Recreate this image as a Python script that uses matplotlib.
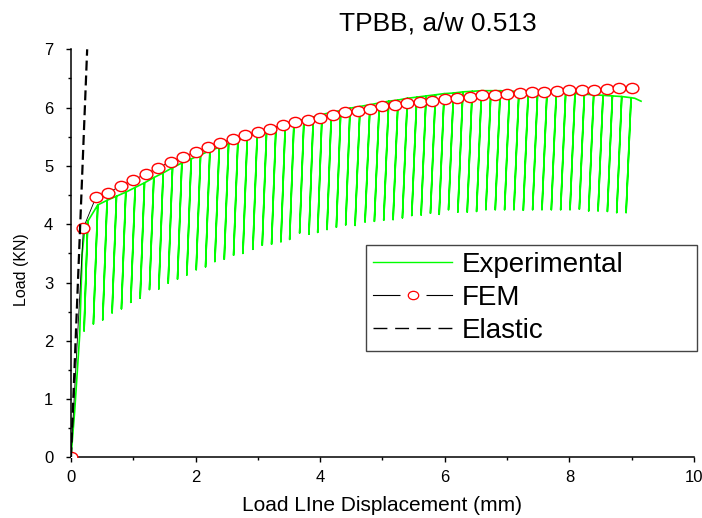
import matplotlib
matplotlib.use("Agg")
import matplotlib.pyplot as plt
from matplotlib.lines import Line2D
from matplotlib.path import Path
from matplotlib.transforms import Affine2D
from matplotlib.ticker import MultipleLocator
from matplotlib.legend_handler import HandlerTuple

plt.rcParams["font.family"] = ["Liberation Sans", "DejaVu Sans"]

# FEM prediction (one point every 0.2 mm)
fem_disp = [0.0, 0.2, 0.4, 0.6, 0.8, 1.0, 1.2, 1.4, 1.6, 1.8, 2.0, 2.2, 2.4,
            2.6, 2.8, 3.0, 3.2, 3.4, 3.6, 3.8, 4.0, 4.2, 4.4, 4.6, 4.8, 5.0,
            5.2, 5.4, 5.6, 5.8, 6.0, 6.2, 6.4, 6.6, 6.8, 7.0, 7.2, 7.4, 7.6,
            7.8, 8.0, 8.2, 8.4, 8.6, 8.8, 9.0]
fem_load = [0.0, 3.94, 4.46, 4.54, 4.66, 4.76, 4.86, 4.97, 5.07, 5.16, 5.24,
            5.32, 5.39, 5.47, 5.53, 5.59, 5.64, 5.70, 5.75, 5.79, 5.83, 5.88,
            5.92, 5.95, 5.98, 6.03, 6.05, 6.08, 6.10, 6.12, 6.14, 6.17, 6.19,
            6.21, 6.22, 6.23, 6.25, 6.26, 6.27, 6.28, 6.30, 6.31, 6.31, 6.32,
            6.33, 6.34]

# elastic line
elastic_disp = [0.0, 0.26]
elastic_load = [0.0, 7.0]

# experimental: initial loading, unload/reload cycles, final tail
initial_disp = [0.0, 0.06, 0.14, 0.18, 0.22]
initial_load = [0.0, 0.80, 2.10, 3.50, 3.90]

peak_disp = [0.27, 0.43, 0.58, 0.73, 0.88, 1.03, 1.18, 1.33, 1.48, 1.63,
             1.78, 1.93, 2.08, 2.23, 2.38, 2.53, 2.68, 2.83, 2.99, 3.14,
             3.29, 3.44, 3.58, 3.74, 3.89, 4.03, 4.18, 4.33, 4.48, 4.64,
             4.80, 4.95, 5.10, 5.25, 5.40, 5.55, 5.70, 5.85, 5.99, 6.14,
             6.29, 6.44, 6.59, 6.74, 6.89, 7.04, 7.19, 7.34, 7.49, 7.64,
             7.79, 7.94, 8.09, 8.24, 8.39, 8.54, 8.69, 8.84, 8.99]
peak_load = [4.05, 4.33, 4.41, 4.48, 4.55, 4.63, 4.71, 4.80, 4.88, 4.97,
             5.05, 5.12, 5.19, 5.26, 5.32, 5.38, 5.44, 5.50, 5.56, 5.61,
             5.66, 5.71, 5.76, 5.80, 5.84, 5.88, 5.92, 5.95, 5.99, 6.02,
             6.05, 6.08, 6.11, 6.13, 6.16, 6.18, 6.20, 6.22, 6.24, 6.25,
             6.27, 6.28, 6.29, 6.29, 6.29, 6.28, 6.28, 6.27, 6.27, 6.26,
             6.26, 6.25, 6.24, 6.23, 6.22, 6.21, 6.20, 6.19, 6.17]
valley_disp = [0.21, 0.36, 0.51, 0.66, 0.81, 0.96, 1.11, 1.26, 1.41, 1.56,
               1.71, 1.86, 2.01, 2.16, 2.31, 2.46, 2.61, 2.76, 2.92, 3.07,
               3.22, 3.37, 3.51, 3.67, 3.82, 3.96, 4.11, 4.26, 4.41, 4.56,
               4.72, 4.87, 5.02, 5.17, 5.32, 5.47, 5.62, 5.77, 5.91, 6.06,
               6.21, 6.36, 6.51, 6.66, 6.81, 6.96, 7.11, 7.26, 7.41, 7.56,
               7.71, 7.86, 8.01, 8.16, 8.31, 8.46, 8.61, 8.76, 8.91]
valley_load = [2.17, 2.29, 2.36, 2.48, 2.55, 2.66, 2.73, 2.88, 2.89, 2.99,
               3.06, 3.13, 3.22, 3.27, 3.36, 3.40, 3.47, 3.50, 3.57, 3.64,
               3.66, 3.70, 3.74, 3.85, 3.83, 3.86, 3.91, 3.95, 3.99, 3.98,
               4.04, 4.05, 4.07, 4.08, 4.11, 4.15, 4.16, 4.19, 4.17, 4.25,
               4.21, 4.21, 4.22, 4.25, 4.25, 4.25, 4.25, 4.24, 4.25, 4.25,
               4.25, 4.25, 4.25, 4.26, 4.23, 4.23, 4.22, 4.20, 4.20]

tail_disp = [9.05, 9.15]
tail_load = [6.16, 6.11]

exp_x = list(initial_disp)
exp_y = list(initial_load)
for px, pl, vx, vl in zip(peak_disp, peak_load, valley_disp, valley_load):
    exp_x += [px, vx, px]
    exp_y += [pl, vl, pl]
exp_x += tail_disp
exp_y += tail_load

GREEN = "#00ff00"
RED = "#ff0000"

# Origin-style slightly flattened circle marker
ellipse = Affine2D().scale(1.0, 0.8).transform_path(Path.unit_circle())

fig = plt.figure(figsize=(7.02, 5.18), dpi=100)
ax = fig.add_axes([0.1011, 0.1170, 0.8875, 0.7878])

ax.plot(exp_x, exp_y, color=GREEN, linewidth=1.2, zorder=2)
ax.plot(fem_disp, fem_load, color="black", linewidth=0.6,
        marker=ellipse, markersize=9.2, markerfacecolor="white",
        markeredgecolor=RED, markeredgewidth=1.0, zorder=3)
ax.plot(elastic_disp, elastic_load, color="black", linewidth=1.6,
        linestyle=(0, (4.5, 2.2)), zorder=4)

ax.set_xlim(0, 10)
ax.set_ylim(0, 7)
ax.xaxis.set_major_locator(MultipleLocator(2))
ax.xaxis.set_minor_locator(MultipleLocator(1))
ax.yaxis.set_major_locator(MultipleLocator(1))
ax.yaxis.set_minor_locator(MultipleLocator(0.5))

for side in ("top", "right"):
    ax.spines[side].set_visible(False)
for side in ("left", "bottom"):
    ax.spines[side].set_linewidth(1.1)

ax.tick_params(which="major", direction="out", length=3.8, width=1.0,
               labelsize=12)
ax.tick_params(which="minor", direction="out", length=2.3, width=1.0)
ax.tick_params(axis="x", which="major", pad=5)
ax.tick_params(axis="y", which="major", pad=9)

ax.set_ylabel("Load (KN)", fontsize=11.5)
ax.yaxis.set_label_coords(-0.079, 0.459)
ax.yaxis.label.set_verticalalignment("center")

ax.set_xlabel("Load LIne Displacement (mm)", fontsize=15)
ax.xaxis.set_label_coords(0.5, -0.117)
ax.xaxis.label.set_verticalalignment("center")

ax.set_title("TPBB, a/w 0.513", fontsize=19, x=0.589, y=1.047, pad=0)

# legend
h_exp = Line2D([], [], color=GREEN, linewidth=1.0)
h_fem_line = Line2D([], [], color="black", linewidth=0.8)
h_fem_gap = Line2D([], [], linestyle="none", marker="s", markersize=19,
                   markerfacecolor="white", markeredgecolor="none")
h_fem_mark = Line2D([], [], linestyle="none", marker=ellipse, markersize=7.5,
                    markerfacecolor="white", markeredgecolor=RED,
                    markeredgewidth=0.9)
h_el = Line2D([], [], color="black", linewidth=1.0, linestyle=(0, (10, 5.6)))

leg = ax.legend([h_exp, (h_fem_line, h_fem_gap, h_fem_mark), h_el],
                ["Experimental", "FEM", "Elastic"],
                handler_map={tuple: HandlerTuple(ndivide=1)},
                loc="upper left", bbox_to_anchor=(0.5214, 0.327, 0.4715, 0.2),
                bbox_transform=fig.transFigure, mode="expand",
                borderaxespad=0, fontsize=20, handlelength=2.85,
                handletextpad=0.36, borderpad=0.25, labelspacing=0.25,
                fancybox=False, framealpha=1, edgecolor="#444444")
leg.get_frame().set_linewidth(1.0)

fig.savefig("out.png", dpi=100)
